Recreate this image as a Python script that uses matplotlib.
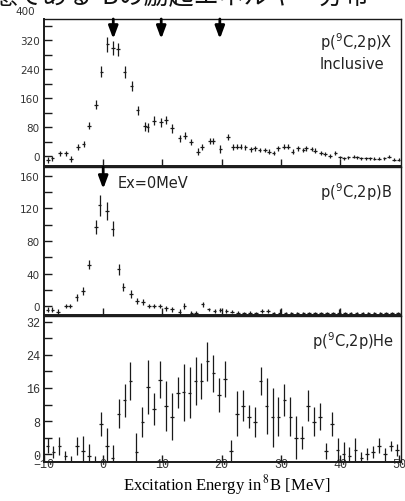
import numpy as np
import matplotlib
matplotlib.use("Agg")
import matplotlib.pyplot as plt
from matplotlib.ticker import MultipleLocator

# inclusive p(9C,2p)X
x_incl = [-9.3, -8.6, -7.3, -6.3, -5.4, -4.3, -3.3, -2.4, -1.2, -0.3,
          0.7, 1.7, 2.5, 3.6, 4.8, 5.8, 7.1, 7.5, 8.6, 9.8,
          10.6, 11.6, 12.9, 13.8, 14.8, 16.0, 16.7, 18.0, 18.5, 19.8,
          21.1, 21.9, 22.6, 23.2, 24.0, 25.0, 25.6, 26.4, 27.3, 28.0,
          28.8, 29.5, 30.5, 31.2, 32.0, 32.9, 33.8, 34.3, 35.2, 35.8,
          36.8, 37.5, 38.3, 39.2, 40.0, 40.7, 41.4, 42.3, 42.9, 43.5,
          44.4, 45.1, 45.8, 46.6, 47.5, 48.3, 49.1, 49.9]
y_incl = [-10, -6, 7, 7, -8, 24, 33, 84, 142, 232,
          308, 298, 294, 232, 193, 126, 82, 79, 97, 93,
          99, 76, 49, 56, 39, 12, 24, 42, 42, 19,
          52, 24, 25, 25, 24, 19, 21, 16, 16, 12,
          8, 21, 26, 26, 12, 21, 17, 21, 19, 15,
          8, 5, 0, 8, -4, -6, -4, -2, -4, -6,
          -6, -6, -8, -8, -6, -2, -10, -10]
e_incl = [8, 7, 8, 7, 9, 8, 8, 10, 12, 15,
          20, 20, 18, 16, 14, 13, 12, 12, 12, 12,
          12, 12, 10, 10, 9, 9, 8, 8, 8, 12,
          8, 8, 7, 7, 7, 7, 7, 6, 6, 6,
          6, 7, 7, 6, 6, 6, 6, 6, 6, 6,
          6, 5, 5, 5, 4, 4, 4, 4, 4, 4,
          4, 4, 4, 4, 4, 4, 4, 4]

# p(9C,2p)B
x_b = [-9.4, -8.6, -7.6, -6.3, -5.6, -4.5, -3.4, -2.4, -1.2, -0.6,
       0.6, 1.6, 2.6, 3.4, 4.7, 5.7, 6.7, 7.7, 8.6, 9.6,
       10.6, 11.6, 12.9, 13.7, 14.9, 15.7, 16.8, 17.8, 18.8, 19.8,
       20.8, 21.8, 22.8, 23.8, 24.8, 25.8, 26.8, 27.8, 28.8, 29.8,
       30.8, 31.8, 32.8, 33.8, 34.8, 35.8, 36.8, 37.8, 38.8, 39.8,
       40.8, 41.8, 42.8, 43.8, 44.8, 45.8, 46.8, 47.8, 48.8, 49.8]
y_b = [-4.5, -4.5, -7, 0, 0, 10.7, 18, 51, 97, 124,
       117, 95, 45, 23, 15, 6.5, 5, 0, 0, 0,
       -3, -4, -7, 0, -9, -9, 2, -4, -6, -5,
       -6, -7, -8, -9, -8, -9, -6, -6, -9, -8,
       -9, -9, -9, -9, -9, -9, -9, -9, -9, -8,
       -9, -9, -9, -9, -9, -9, -9, -9, -9, -9]
e_b = [3, 3, 3, 3, 3, 4, 5, 6, 9, 13,
       11, 9, 7, 5, 5, 4, 4, 3, 3, 3,
       3, 3, 3, 4, 3, 3, 3, 2, 2, 2,
       2, 2, 2, 2, 2, 2, 2, 2, 2, 4,
       2, 2, 2, 2, 2, 2, 2, 2, 2, 4,
       2, 2, 2, 2, 2, 2, 2, 2, 2, 2]

# p(9C,2p)He, 1 MeV bins
x_he = np.arange(-9.4, 50, 1.0)
y_he = [2, 0.5, 2, -0.4, -2, 2, 0.8, -0.4, -2, 7.3,
        2, -1, 9.8, 13, 17.6, 0.6, 7.8, 16.3, 11, 18,
        11.7, 9.1, 14.9, 15, 14.9, 17.6, 17.7, 22.4, 19.5, 14.3,
        18.2, 0.7, 9.8, 11.7, 9.1, 7.8, 17.7, 11.7, 8.9, 9.1,
        13.1, 9.1, 4.0, 4.0, 11.7, 7.8, 9.1, 0.8, 7.3, 1,
        0, -0.5, 1, -1, 0, 0.5, 2, 0, 2, 1]
e_he = [1.8, 1.5, 2.2, 1.1, 1.5, 2.2, 3.5, 2.8, 1.5, 2.9,
        4.2, 3.2, 3.6, 3.9, 4.6, 4.5, 3.6, 6.5, 3.9, 4.4,
        6.1, 5.8, 3.8, 6.9, 6.1, 5.8, 4.4, 4.6, 4.4, 4.1,
        4.4, 2.6, 5.4, 3.8, 2.8, 3.6, 3.4, 6.8, 7.1, 4.6,
        3.8, 4.6, 5.2, 2.7, 3.8, 3.5, 3.3, 2.0, 2.9, 3.0,
        3.0, 2.2, 3.0, 1.5, 1.5, 1.5, 1.8, 1.6, 1.2, 1.5]

arrows_incl = [1.7, 9.8, 19.7]
arrow_b = 0.0

W, H = 405, 502
fig = plt.figure(figsize=(W / 100, H / 100), dpi=100)
plt.rcParams['mathtext.fontset'] = 'dejavusans'


def box(top, bottom):
    return [44 / W, 1 - bottom / H, 357 / W, (bottom - top) / H]


ax1 = fig.add_axes(box(20, 167))
ax2 = fig.add_axes(box(168, 316))
ax3 = fig.add_axes(box(317, 463))

ink = '#1a1a1a'


def style(ax, ylim, major, minor):
    ax.set_xlim(-10, 50.3)
    ax.set_ylim(*ylim)
    ax.set_xticks([0, 10, 20, 30, 40])
    ax.yaxis.set_major_locator(MultipleLocator(major))
    ax.yaxis.set_minor_locator(MultipleLocator(minor))
    ax.tick_params(which='both', direction='in', length=6, width=1.0,
                   color=ink, top=False, right=False)
    ax.tick_params(axis='x', labelbottom=False, length=5)
    ax.tick_params(axis='y', labelsize=7.5, labelcolor='#333', pad=3)
    for s in ax.spines.values():
        s.set_linewidth(1.0)
        s.set_color(ink)
    ax.spines['left'].set_linewidth(1.4)
    ax.spines['bottom'].set_linewidth(1.4)


style(ax1, (-27.6, 378), 80, 40)
style(ax2, (-11, 171), 40, 20)
style(ax3, (-1.9, 33.4), 8, 4)

for ax, x, y, e in [(ax1, x_incl, y_incl, e_incl),
                    (ax2, x_b, y_b, e_b),
                    (ax3, x_he, y_he, e_he)]:
    ax.errorbar(x, y, yerr=e, xerr=0.3, fmt='none', ecolor=ink,
                elinewidth=0.9, capsize=0)

# "400" label sits above the top frame
ax1.text(-0.025, 400, '400', transform=ax1.get_yaxis_transform(),
         ha='right', va='center', fontsize=7.5, color='#333', clip_on=False)

# bottom panel: courier-like tick labels drawn over the axis line
ax3.set_xticks([-10, 0, 10, 20, 30, 40, 50])
ax3.tick_params(axis='x', labelbottom=True, pad=-3.2)
for lab in ax3.get_xticklabels() + ax3.get_yticklabels():
    lab.set_fontfamily('Liberation Mono')
    lab.set_fontsize(8.5)
    lab.set_color('#333')

arrow = dict(arrowstyle='-|>,head_width=0.28,head_length=0.75',
             lw=2.0, color='black', shrinkA=0, shrinkB=0)
for xa in arrows_incl:
    ax1.annotate('', xy=(xa, 323), xytext=(xa, 378), arrowprops=arrow)
ax2.annotate('', xy=(arrow_b, 144), xytext=(arrow_b, 171), arrowprops=arrow)

lab_kw = dict(fontsize=10.5, color='#222', va='center', ha='left')
ax1.text(0.773, 0.85, r'p($^9$C,2p)X', transform=ax1.transAxes, **lab_kw)
ax1.text(0.773, 0.694, 'Inclusive', transform=ax1.transAxes, **lab_kw)
ax2.text(0.773, 0.838, r'p($^9$C,2p)B', transform=ax2.transAxes, **lab_kw)
ax2.text(0.207, 0.892, 'Ex=0MeV', transform=ax2.transAxes, **lab_kw)
ax3.text(0.75, 0.838, r'p($^9$C,2p)He', transform=ax3.transAxes, **lab_kw)

plt.rcParams['mathtext.fontset'] = 'stix'
fig.text(227 / W, 1 - 485 / H, r'Excitation Energy in$\,^8$B [MeV]',
         family='Liberation Serif', fontsize=12, ha='center', va='center')

# cut-off caption line from the page above
fig.text(-8 / W, 1 - 4 / H, '態である⁸Bの励起エネルギー分布',
         family=['Noto Sans CJK JP', 'DejaVu Sans'], fontsize=18,
         ha='left', va='baseline', color='#111')

fig.savefig('out.png', dpi=100)
